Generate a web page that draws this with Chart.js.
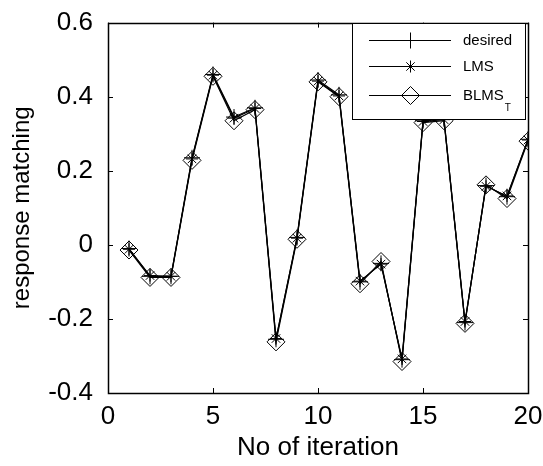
<!DOCTYPE html>
<html>
<head>
<meta charset="utf-8">
<script src="https://cdn.jsdelivr.net/npm/chart.js@4.4.0/dist/chart.umd.min.js"></script>
<style>
  html, body { margin: 0; padding: 0; background: #fff; }
  #wrap { width: 543px; height: 466px; }
</style>
</head>
<body>
<div id="wrap"><canvas id="resp"></canvas></div>
<script>
// data
let iterations = [1, 2, 3, 4, 5, 6, 7, 8, 9, 10, 11, 12, 13, 14, 15, 16, 17, 18, 19, 20];
let desired = [-0.01, -0.085, -0.085, 0.235, 0.46, 0.345, 0.37, -0.255, 0.02, 0.445, 0.405, -0.10, -0.05, -0.31, 0.335, 0.34, -0.21, 0.16, 0.13, 0.285];
let lms     = [-0.012, -0.083, -0.085, 0.232, 0.458, 0.342, 0.368, -0.253, 0.018, 0.442, 0.402, -0.098, -0.052, -0.308, 0.333, 0.338, -0.207, 0.158, 0.132, 0.283];
let blms    = [-0.014, -0.088, -0.088, 0.228, 0.455, 0.335, 0.365, -0.262, 0.015, 0.440, 0.400, -0.105, -0.045, -0.315, 0.330, 0.335, -0.212, 0.162, 0.125, 0.280];
let xTicks = [0, 5, 10, 15, 20];
let yTicks = [-0.4, -0.2, 0, 0.2, 0.4, 0.6];

const FONT = "'Liberation Sans', Arial, sans-serif";

function pts(ys) {
  return iterations.map((x, i) => ({ x: x, y: ys[i] }));
}

// MATLAB style box, inward ticks, legend
let matlabBox = {
  id: "matlabBox",
  afterDatasetsDraw(chart) {
    let ctx = chart.ctx;
    let a = chart.chartArea;
    let xs = chart.scales.x, ys = chart.scales.y;
    ctx.save();
    ctx.strokeStyle = "#000";
    ctx.lineWidth = 1;
    ctx.beginPath();
    xTicks.forEach(v => {
      let px = Math.round(xs.getPixelForValue(v)) + 0.5;
      ctx.moveTo(px, a.bottom); ctx.lineTo(px, a.bottom - 5);
      ctx.moveTo(px, a.top); ctx.lineTo(px, a.top + 5);
    });
    yTicks.forEach(v => {
      let py = Math.round(ys.getPixelForValue(v)) + 0.5;
      ctx.moveTo(a.left, py); ctx.lineTo(a.left + 5, py);
      ctx.moveTo(a.right, py); ctx.lineTo(a.right - 5, py);
    });
    ctx.stroke();
    ctx.lineWidth = 1.5;
    ctx.strokeRect(Math.round(a.left) + 0.5, Math.round(a.top) + 0.5, Math.round(a.right - a.left), Math.round(a.bottom - a.top));

    // legend
    let lx = 352, ly = Math.round(a.top) + 0.5, lw = a.right - 3 - lx, lh = 96;
    ctx.fillStyle = "#fff";
    ctx.fillRect(lx, ly, lw, lh);
    ctx.lineWidth = 1;
    ctx.strokeRect(lx + 0.5, ly, lw, lh);
    let rows = [40, 66, 95];
    ctx.font = "15px " + FONT;
    ctx.textBaseline = "middle";
    ctx.fillStyle = "#000";
    chart.data.datasets.forEach((ds, i) => {
      let y = rows[i] + 0.5;
      ctx.beginPath();
      ctx.moveTo(369, y); ctx.lineTo(451, y);
      let cx = 410.5, r;
      if (i === 0) {
        r = 8;
        ctx.moveTo(cx - r, y); ctx.lineTo(cx + r, y);
        ctx.moveTo(cx, y - r); ctx.lineTo(cx, y + r);
      } else if (i === 1) {
        r = 6;
        ctx.moveTo(cx - r, y); ctx.lineTo(cx + r, y);
        ctx.moveTo(cx, y - r); ctx.lineTo(cx, y + r);
        let d = r * 0.7;
        ctx.moveTo(cx - d, y - d); ctx.lineTo(cx + d, y + d);
        ctx.moveTo(cx - d, y + d); ctx.lineTo(cx + d, y - d);
      } else {
        r = 9;
        ctx.moveTo(cx - r, y); ctx.lineTo(cx, y - r); ctx.lineTo(cx + r, y); ctx.lineTo(cx, y + r); ctx.closePath();
      }
      ctx.stroke();
      ctx.fillText(ds.label, 463, y);
    });
    let bw = ctx.measureText("BLMS").width;
    ctx.font = "10px " + FONT;
    ctx.fillText("T", 463 + bw + 1, 108);
    ctx.restore();
  }
};

let respData = {
  datasets: [
    {
      label: "desired",
      data: pts(desired),
      borderColor: "#000",
      borderWidth: 1.2,
      pointStyle: "cross",
      pointRadius: 8,
      pointBorderWidth: 1,
      pointBorderColor: "#000",
      pointBackgroundColor: "transparent",
      showLine: true,
      tension: 0
    },
    {
      label: "LMS",
      data: pts(lms),
      borderColor: "#000",
      borderWidth: 1.2,
      pointStyle: "star",
      pointRadius: 6,
      pointBorderWidth: 1,
      pointBorderColor: "#000",
      pointBackgroundColor: "transparent",
      showLine: true,
      tension: 0
    },
    {
      label: "BLMS",
      data: pts(blms),
      borderColor: "#000",
      borderWidth: 1.2,
      pointStyle: "rectRot",
      pointRadius: 9,
      pointBorderWidth: 1,
      pointBorderColor: "#000",
      pointBackgroundColor: "transparent",
      showLine: true,
      tension: 0
    }
  ]
};

let respOptions = {
  responsive: true,
  maintainAspectRatio: false,
  animation: false,
  layout: { padding: { top: 22, right: 15, left: 0, bottom: 0 } },
  plugins: {
    legend: { display: false },
    tooltip: { enabled: false }
  },
  scales: {
    x: {
      type: "linear",
      min: 0,
      max: 20,
      grid: { display: false },
      border: { display: false },
      afterBuildTicks: s => { s.ticks = xTicks.map(v => ({ value: v })); },
      afterFit: s => { s.height = 73; },
      ticks: {
        color: "#000",
        font: { family: FONT, size: 26 },
        padding: 0,
        maxRotation: 0
      },
      title: {
        display: true,
        text: "No of iteration",
        color: "#000",
        font: { family: FONT, size: 26 },
        padding: { top: 0, bottom: 3 }
      }
    },
    y: {
      min: -0.4,
      max: 0.6,
      grid: { display: false },
      border: { display: false },
      afterBuildTicks: s => { s.ticks = yTicks.map(v => ({ value: v })); },
      afterFit: s => { s.width = 108; },
      ticks: {
        color: "#000",
        font: { family: FONT, size: 26 },
        padding: 7,
        callback: v => (Math.abs(v) < 1e-9 ? "0" : v.toFixed(1))
      },
      title: {
        display: true,
        text: "response matching",
        color: "#000",
        font: { family: FONT, size: 24 },
        padding: { top: 8, bottom: 0 }
      }
    }
  }
};

let respChart = new Chart(document.getElementById("resp"), {
  type: "scatter",
  data: respData,
  options: respOptions,
  plugins: [matlabBox]
});
</script>
</body>
</html>
